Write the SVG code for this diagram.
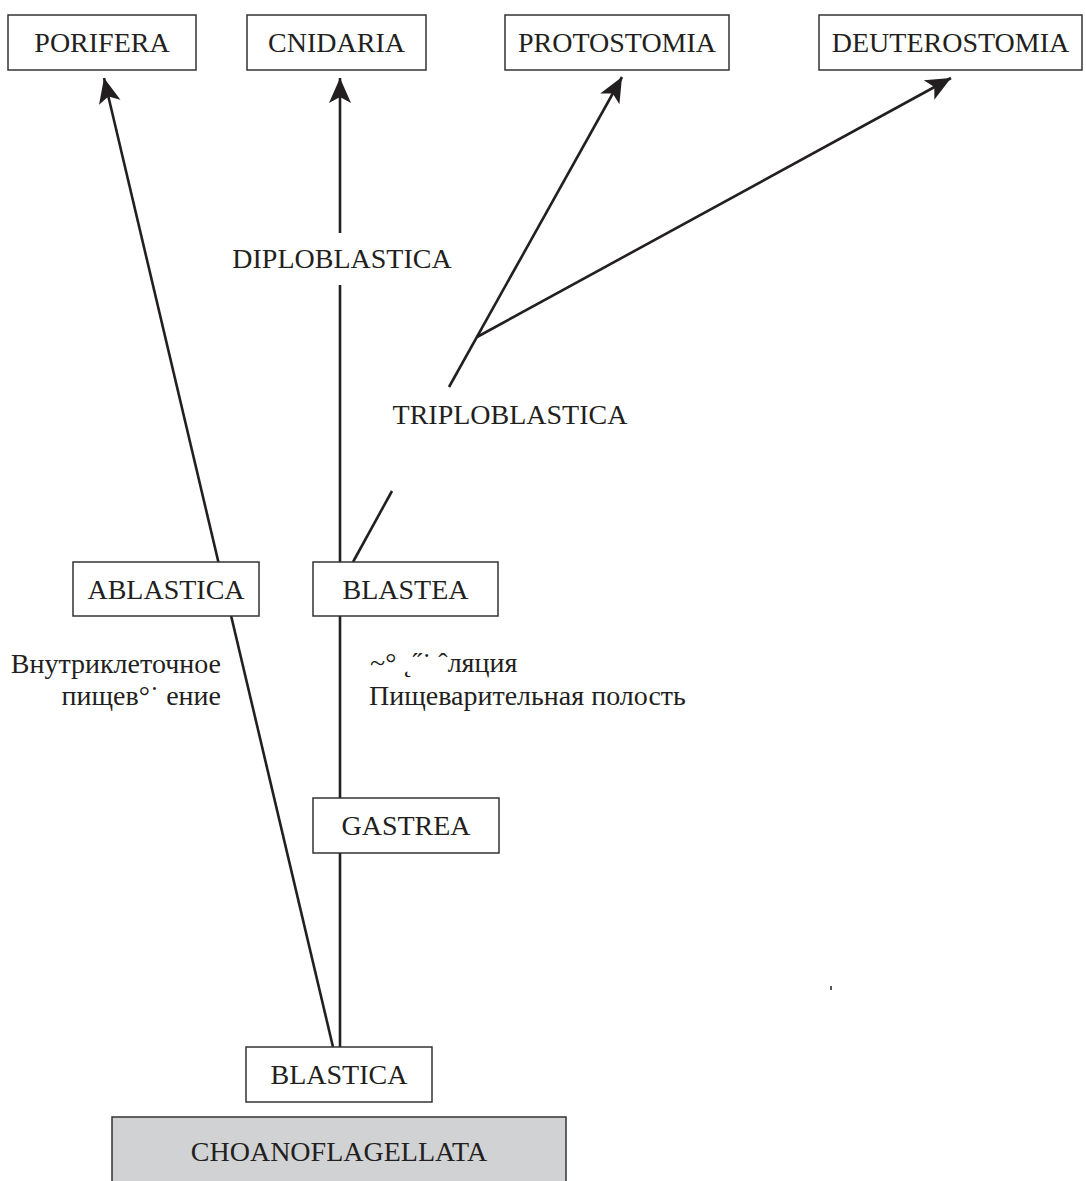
<svg xmlns="http://www.w3.org/2000/svg" width="1086" height="1181" viewBox="0 0 1086 1181">
<style>
.box{fill:#fff;stroke:#333;stroke-width:1.5}
.gray{fill:#d1d2d4;stroke:#333;stroke-width:1.5}
.t{font-family:"Liberation Serif","Times New Roman",serif;font-size:28px;fill:#231f20;text-anchor:middle}
.s{font-family:"Liberation Serif","Times New Roman",serif;font-size:28px;fill:#231f20}
.ln{stroke:#231f20;stroke-width:2.6;fill:none}
</style>
<defs>
<marker id="ah" markerUnits="userSpaceOnUse" markerWidth="30" markerHeight="30" viewBox="-26 -13 30 26" refX="0" refY="0" orient="auto">
<path d="M0,0 L-25,-11 L-19,0 L-25,11 Z" fill="#231f20"/>
</marker>
</defs>
<rect width="1086" height="1181" fill="#fff"/>
<g id="connectors">
<path class="ln" d="M333,1047 L104,78" marker-end="url(#ah)"/>
<path class="ln" d="M340,1047 L340,853"/>
<path class="ln" d="M340,798 L340,616"/>
<path class="ln" d="M340,562 L340,285"/>
<path class="ln" d="M340,233 L340,78" marker-end="url(#ah)"/>
<path class="ln" d="M353,562 L392,491"/>
<path class="ln" d="M449,387 L622,77" marker-end="url(#ah)"/>
<path class="ln" d="M477,337 L951,78" marker-end="url(#ah)"/>
</g>
<g id="porifera"><rect class="box" x="8" y="15" width="188" height="55"/><text class="t" x="102" y="52">PORIFERA</text></g>
<g id="cnidaria"><rect class="box" x="247" y="15" width="179" height="55"/><text class="t" x="336.5" y="52">CNIDARIA</text></g>
<g id="protostomia"><rect class="box" x="505" y="15" width="224" height="55"/><text class="t" x="617" y="52">PROTOSTOMIA</text></g>
<g id="deuterostomia"><rect class="box" x="819" y="15" width="263" height="55"/><text class="t" x="950.5" y="52">DEUTEROSTOMIA</text></g>
<g id="diploblastica"><text class="t" x="342" y="268">DIPLOBLASTICA</text></g>
<g id="triploblastica"><text class="t" x="510" y="424">TRIPLOBLASTICA</text></g>
<g id="ablastica"><rect class="box" x="73" y="562" width="186" height="54"/><text class="t" x="166" y="599">ABLASTICA</text></g>
<g id="blastea"><rect class="box" x="313" y="562" width="185" height="54"/><text class="t" x="405.5" y="599">BLASTEA</text></g>
<g id="label-left"><text class="s" x="221" y="673" text-anchor="end">Внутриклеточное</text><text class="s" x="221" y="705" text-anchor="end">пищев°˙ ение</text></g>
<g id="label-right"><text class="s" x="370" y="672">~°  ˛˝˙ ˆляция</text><text class="s" x="369" y="705">Пищеварительная полость</text></g>
<g id="gastrea"><rect class="box" x="313" y="798" width="186" height="55"/><text class="t" x="406" y="835">GASTREA</text></g>
<g id="blastica"><rect class="box" x="246" y="1047" width="186" height="55"/><text class="t" x="339" y="1084">BLASTICA</text></g>
<g id="choanoflagellata"><rect class="gray" x="112" y="1117" width="454" height="80"/><text class="t" x="339" y="1161">CHOANOFLAGELLATA</text></g>
<rect x="830" y="986" width="2" height="4" fill="#555"/>
</svg>
